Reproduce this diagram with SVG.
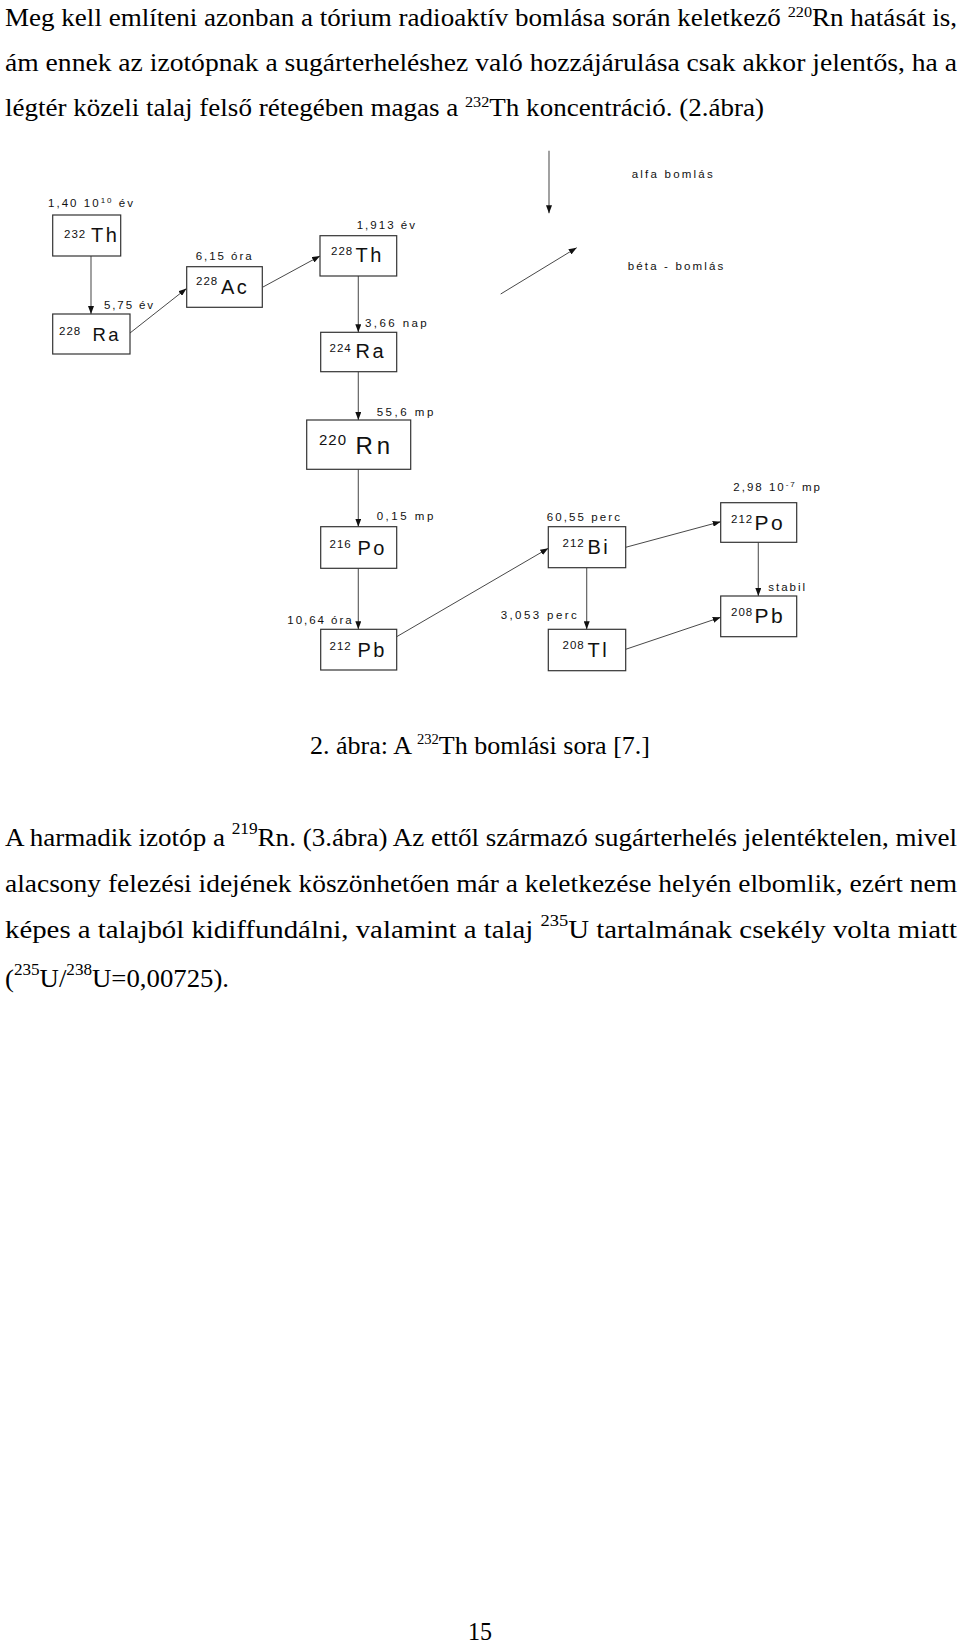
<svg xmlns="http://www.w3.org/2000/svg" width="960" height="1649" viewBox="0 0 960 1649">
<style>
.body{font-family:"Liberation Serif","Times New Roman",serif;font-size:25px;fill:#000}
.box{fill:#fff;stroke:#333;stroke-width:1.2}
.lbl{font-family:"Liberation Sans",Arial,sans-serif;font-size:11.5px;fill:#111}
.sup{font-family:"Liberation Sans",Arial,sans-serif;font-size:11.5px;fill:#111;letter-spacing:1px}
.el{font-family:"Liberation Sans",Arial,sans-serif;font-size:20px;fill:#111;letter-spacing:2.5px}
.a{stroke:#555;stroke-width:1.1;fill:none;marker-end:url(#ah)}
.b{stroke:#333;stroke-width:0.9;fill:none;marker-end:url(#ah)}
</style>
<defs>
<marker id="ah" markerUnits="userSpaceOnUse" markerWidth="8" markerHeight="6" refX="8" refY="3" orient="auto">
<path d="M0,0 L8,3 L0,6 z" fill="#111"/>
</marker>
</defs>
<rect width="960" height="1649" fill="#fff"/>

<g id="para1" class="body">
<text x="5" y="26" textLength="952" lengthAdjust="spacingAndGlyphs">Meg kell említeni azonban a tórium radioaktív bomlása során keletkező <tspan font-size="15" dy="-9">220</tspan><tspan dy="9">Rn hatását is,</tspan></text>
<text x="5" y="71" textLength="952" lengthAdjust="spacingAndGlyphs">ám ennek az izotópnak a sugárterheléshez való hozzájárulása csak akkor jelentős, ha a</text>
<text x="5" y="116" textLength="759" lengthAdjust="spacingAndGlyphs">légtér közeli talaj felső rétegében magas a <tspan font-size="15" dy="-9">232</tspan><tspan dy="9">Th koncentráció. (2.ábra)</tspan></text>
</g>

<g id="connectors">
<line class="a" x1="91" y1="256" x2="91" y2="314"/>
<line class="b" x1="130" y1="333" x2="186.5" y2="288.5"/>
<line class="b" x1="263" y1="287" x2="320" y2="256"/>
<line class="a" x1="358.3" y1="276" x2="358.3" y2="332.3"/>
<line class="a" x1="358.3" y1="371.7" x2="358.3" y2="420"/>
<line class="a" x1="358.3" y1="469.3" x2="358.3" y2="526.7"/>
<line class="a" x1="358.3" y1="568.3" x2="358.3" y2="629.3"/>
<line class="b" x1="396.7" y1="636.7" x2="548.3" y2="548.3"/>
<line class="b" x1="625.7" y1="547.3" x2="720.7" y2="521.7"/>
<line class="a" x1="586.7" y1="567.7" x2="586.7" y2="629.3"/>
<line class="a" x1="758.3" y1="542.3" x2="758.3" y2="596"/>
<line class="b" x1="625.7" y1="649.3" x2="720.7" y2="617.3"/>
<line class="a" x1="549" y1="150.7" x2="549" y2="213.3"/>
<line class="b" x1="500.7" y1="294" x2="576.7" y2="247.7"/>
</g>

<g id="legend">
<text class="lbl" x="631.7" y="178.3" textLength="81" lengthAdjust="spacing">alfa bomlás</text>
<text class="lbl" x="627.7" y="270" textLength="95.6" lengthAdjust="spacing">béta - bomlás</text>
</g>

<g id="halflives">
<text class="lbl" x="48" y="206.7" textLength="85" lengthAdjust="spacing">1,40 10<tspan font-size="8" dy="-4">10</tspan><tspan dy="4"> év</tspan></text>
<text class="lbl" x="104" y="309" textLength="49" lengthAdjust="spacing">5,75 év</text>
<text class="lbl" x="195.7" y="260" textLength="56" lengthAdjust="spacing">6,15 óra</text>
<text class="lbl" x="356.7" y="229.3" textLength="58.3" lengthAdjust="spacing">1,913 év</text>
<text class="lbl" x="365" y="326.7" textLength="61.7" lengthAdjust="spacing">3,66 nap</text>
<text class="lbl" x="376.7" y="415.7" textLength="56.6" lengthAdjust="spacing">55,6 mp</text>
<text class="lbl" x="376.7" y="520" textLength="56.6" lengthAdjust="spacing">0,15 mp</text>
<text class="lbl" x="287.3" y="624" textLength="64.4" lengthAdjust="spacing">10,64 óra</text>
<text class="lbl" x="546.7" y="520.7" textLength="73.3" lengthAdjust="spacing">60,55 perc</text>
<text class="lbl" x="733.3" y="490.7" textLength="86.7" lengthAdjust="spacing">2,98 10<tspan font-size="8" dy="-4">-7</tspan><tspan dy="4"> mp</tspan></text>
<text class="lbl" x="768.3" y="591" textLength="36.7" lengthAdjust="spacing">stabil</text>
<text class="lbl" x="500.7" y="619.3" textLength="76" lengthAdjust="spacing">3,053 perc</text>
</g>

<g id="n-th232"><rect class="box" x="52.7" y="215" width="68" height="41"/>
<text><tspan class="sup" x="64" y="237.5">232</tspan><tspan class="el" x="91" y="241.5">Th</tspan></text></g>
<g id="n-ra228"><rect class="box" x="52.7" y="314" width="77.3" height="40"/>
<text><tspan class="sup" x="59" y="335">228</tspan><tspan class="el" x="92.5" y="340.5" style="font-size:18.5px">Ra</tspan></text></g>
<g id="n-ac228"><rect class="box" x="186.7" y="266.7" width="75.6" height="40.6"/>
<text><tspan class="sup" x="196" y="285">228</tspan><tspan class="el" x="221" y="293.5">Ac</tspan></text></g>
<g id="n-th228"><rect class="box" x="320" y="235.7" width="76.7" height="40.3"/>
<text><tspan class="sup" x="331" y="255">228</tspan><tspan class="el" x="355.5" y="261.7">Th</tspan></text></g>
<g id="n-ra224"><rect class="box" x="320.7" y="332.3" width="76" height="39.4"/>
<text><tspan class="sup" x="329.5" y="351.5">224</tspan><tspan class="el" x="355.5" y="358.3">Ra</tspan></text></g>
<g id="n-rn220"><rect class="box" x="306.7" y="420" width="104" height="49.3"/>
<text><tspan class="sup" x="319" y="444.5" style="font-size:15px;letter-spacing:1px">220</tspan><tspan class="el" x="355.5" y="454" style="font-size:24px;letter-spacing:4px">Rn</tspan></text></g>
<g id="n-po216"><rect class="box" x="320.7" y="526.7" width="76" height="41.6"/>
<text><tspan class="sup" x="329.5" y="547.5">216</tspan><tspan class="el" x="357.5" y="555">Po</tspan></text></g>
<g id="n-pb212"><rect class="box" x="320.7" y="629.3" width="76" height="40.7"/>
<text><tspan class="sup" x="329.5" y="650">212</tspan><tspan class="el" x="357.5" y="656.7">Pb</tspan></text></g>
<g id="n-bi212"><rect class="box" x="548.3" y="526.7" width="77.4" height="41"/>
<text><tspan class="sup" x="562.5" y="546.8">212</tspan><tspan class="el" x="587.5" y="554">Bi</tspan></text></g>
<g id="n-tl208"><rect class="box" x="548.3" y="629.3" width="77.4" height="41.4"/>
<text><tspan class="sup" x="562.5" y="649">208</tspan><tspan class="el" x="587.5" y="656.7">Tl</tspan></text></g>
<g id="n-po212"><rect class="box" x="720.7" y="502.7" width="76" height="39.6"/>
<text><tspan class="sup" x="731" y="522.5">212</tspan><tspan class="el" x="754.5" y="530" style="font-size:21px">Po</tspan></text></g>
<g id="n-pb208"><rect class="box" x="720.7" y="596" width="76" height="40.7"/>
<text><tspan class="sup" x="731" y="615.8">208</tspan><tspan class="el" x="754.5" y="623.3" style="font-size:21px">Pb</tspan></text></g>

<g id="caption" class="body">
<text x="310" y="754" textLength="340" lengthAdjust="spacingAndGlyphs">2. ábra: A <tspan font-size="14" dy="-10">232</tspan><tspan dy="10">Th bomlási sora [7.]</tspan></text>
</g>

<g id="para2" class="body">
<text x="5" y="846" textLength="952" lengthAdjust="spacingAndGlyphs">A harmadik izotóp a <tspan font-size="16" dy="-12">219</tspan><tspan dy="12">Rn. (3.ábra) Az ettől származó sugárterhelés jelentéktelen, mivel</tspan></text>
<text x="5" y="892" textLength="952" lengthAdjust="spacingAndGlyphs">alacsony felezési idejének köszönhetően már a keletkezése helyén elbomlik, ezért nem</text>
<text x="5" y="938" textLength="952" lengthAdjust="spacingAndGlyphs">képes a talajból kidiffundálni, valamint a talaj <tspan font-size="16" dy="-12">235</tspan><tspan dy="12">U tartalmának csekély volta miatt</tspan></text>
<text x="5" y="987" textLength="224" lengthAdjust="spacingAndGlyphs">(<tspan font-size="16" dy="-12">235</tspan><tspan dy="12">U/</tspan><tspan font-size="16" dy="-12">238</tspan><tspan dy="12">U=0,00725).</tspan></text>
</g>

<g id="page"><text class="body" x="468" y="1640" textLength="24" lengthAdjust="spacingAndGlyphs">15</text></g>
</svg>
